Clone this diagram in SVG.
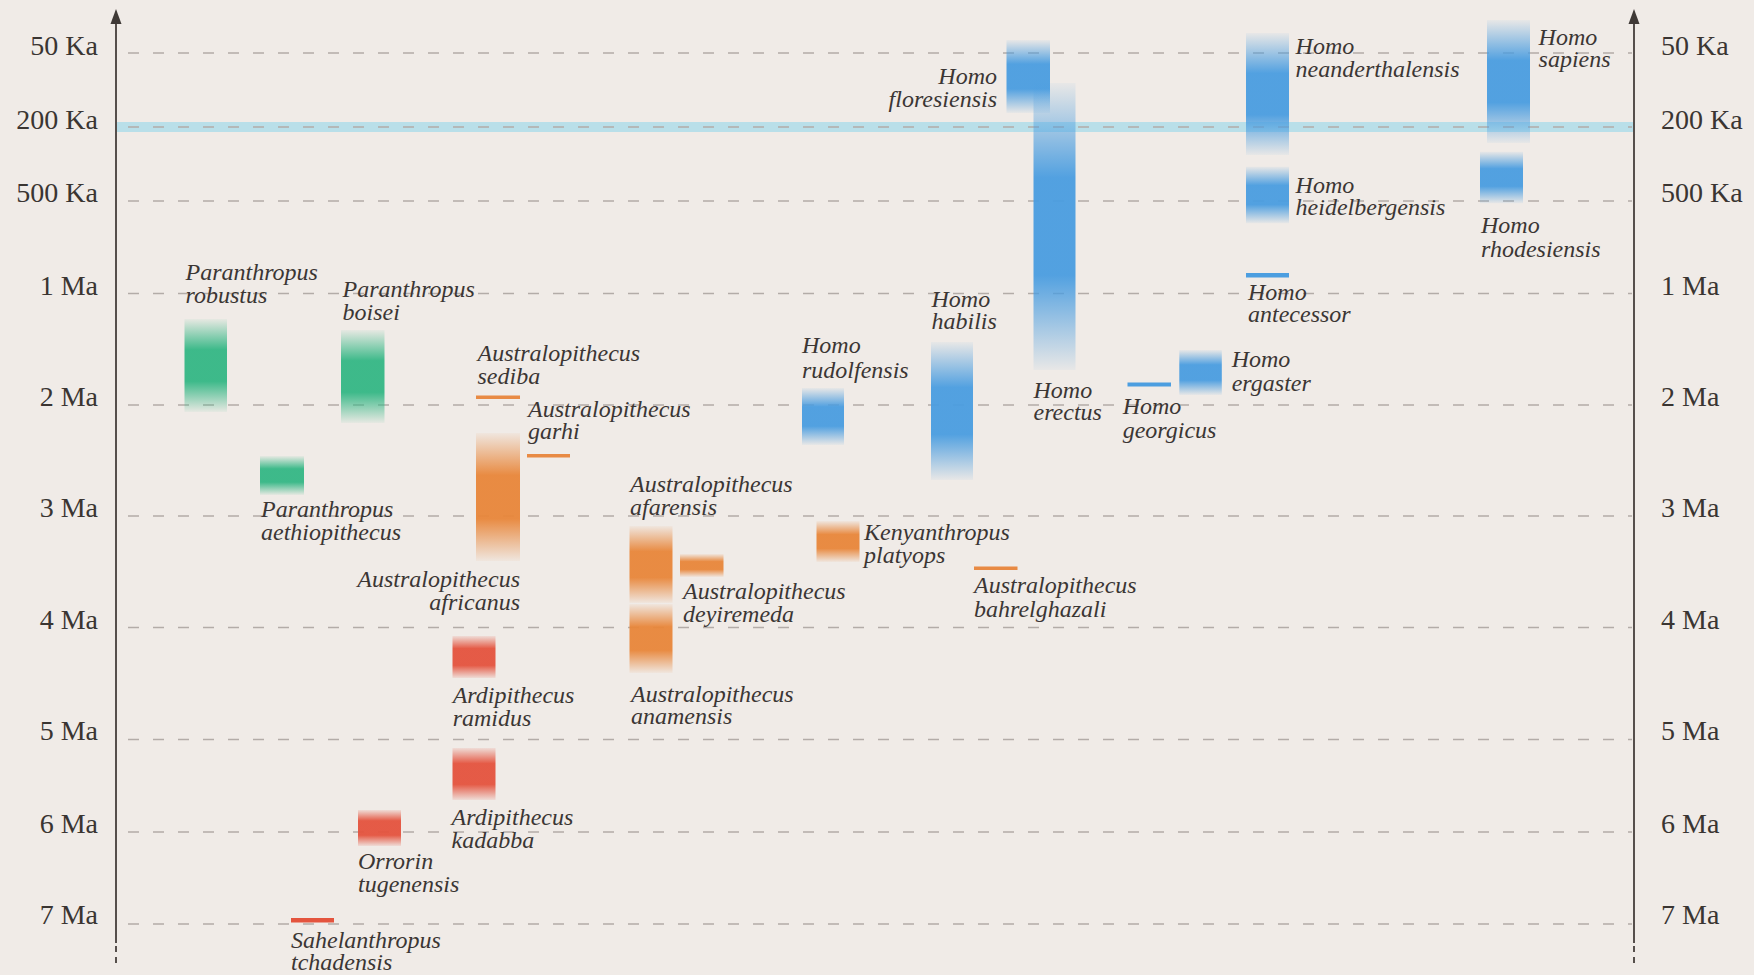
<svg xmlns="http://www.w3.org/2000/svg" width="1754" height="975" viewBox="0 0 1754 975">
<style>
.bg{fill:#f0ebe7}
.grid{stroke:#b3aca8;stroke-width:1.6;stroke-dasharray:11 14;fill:none}
.axis{stroke:#564f4c;stroke-width:2;fill:none}
.axisd{stroke:#564f4c;stroke-width:2;fill:none;stroke-dasharray:6 5}
.arrow{fill:#3f3936}
.tick{font-family:"Liberation Serif",serif;font-size:28px;fill:#3a3532}
.lbl{font-family:"Liberation Serif",serif;font-style:italic;font-size:24px;fill:#3b3634}
.end{text-anchor:end}
.g{fill:url(#gG)}
.o{fill:url(#gO)}
.r{fill:url(#gR)}
.b{fill:url(#gB)}
.ol{fill:#e88a44}
.rl{fill:#e4543e}
.bl{fill:#4c9ee0}
</style>
<defs>
<linearGradient id="gG" x1="0" y1="0" x2="0" y2="1">
<stop offset="0" stop-color="#34b785" stop-opacity="0.05"/>
<stop offset="0.33" stop-color="#34b785" stop-opacity="0.95"/>
<stop offset="0.67" stop-color="#34b785" stop-opacity="0.95"/>
<stop offset="1" stop-color="#34b785" stop-opacity="0.05"/>
</linearGradient>
<linearGradient id="gO" x1="0" y1="0" x2="0" y2="1">
<stop offset="0" stop-color="#e8863a" stop-opacity="0.05"/>
<stop offset="0.33" stop-color="#e8863a" stop-opacity="0.95"/>
<stop offset="0.67" stop-color="#e8863a" stop-opacity="0.95"/>
<stop offset="1" stop-color="#e8863a" stop-opacity="0.05"/>
</linearGradient>
<linearGradient id="gR" x1="0" y1="0" x2="0" y2="1">
<stop offset="0" stop-color="#e4533e" stop-opacity="0.1"/>
<stop offset="0.3" stop-color="#e4533e" stop-opacity="0.95"/>
<stop offset="0.7" stop-color="#e4533e" stop-opacity="0.95"/>
<stop offset="1" stop-color="#e4533e" stop-opacity="0.1"/>
</linearGradient>
<linearGradient id="gB" x1="0" y1="0" x2="0" y2="1">
<stop offset="0" stop-color="#4a9de0" stop-opacity="0.05"/>
<stop offset="0.33" stop-color="#4a9de0" stop-opacity="0.95"/>
<stop offset="0.67" stop-color="#4a9de0" stop-opacity="0.95"/>
<stop offset="1" stop-color="#4a9de0" stop-opacity="0.05"/>
</linearGradient>
</defs>
<rect class="bg" x="0" y="0" width="1754" height="975"/>

<g id="grid">
<rect x="116" y="122" width="1518" height="10" fill="#b9dfe9"/>
<line class="grid" x1="128" y1="53" x2="1632" y2="53"/>
<line class="grid" x1="128" y1="127" x2="1632" y2="127"/>
<line class="grid" x1="128" y1="201" x2="1632" y2="201"/>
<line class="grid" x1="128" y1="293.5" x2="1632" y2="293.5"/>
<line class="grid" x1="128" y1="405" x2="1632" y2="405"/>
<line class="grid" x1="128" y1="516" x2="1632" y2="516"/>
<line class="grid" x1="128" y1="627.5" x2="1632" y2="627.5"/>
<line class="grid" x1="128" y1="739.5" x2="1632" y2="739.5"/>
<line class="grid" x1="128" y1="832" x2="1632" y2="832"/>
<line class="grid" x1="128" y1="924" x2="1632" y2="924"/>
</g>

<g id="axes">
<line class="axis" x1="116" y1="18" x2="116" y2="943"/>
<line class="axisd" x1="116" y1="946" x2="116" y2="966"/>
<polygon class="arrow" points="116,9 110.5,24 121.5,24"/>
<line class="axis" x1="1634" y1="18" x2="1634" y2="943"/>
<line class="axisd" x1="1634" y1="946" x2="1634" y2="966"/>
<polygon class="arrow" points="1634,9 1628.5,24 1639.5,24"/>
</g>

<g id="ticks-left" class="tick end">
<text x="98" y="55">50 Ka</text>
<text x="98" y="128.5">200 Ka</text>
<text x="98" y="202">500 Ka</text>
<text x="98" y="294.5">1 Ma</text>
<text x="98" y="406">2 Ma</text>
<text x="98" y="517">3 Ma</text>
<text x="98" y="628.5">4 Ma</text>
<text x="98" y="740">5 Ma</text>
<text x="98" y="832.5">6 Ma</text>
<text x="98" y="924">7 Ma</text>
</g>
<g id="ticks-right" class="tick">
<text x="1661" y="55">50 Ka</text>
<text x="1661" y="128.5">200 Ka</text>
<text x="1661" y="202">500 Ka</text>
<text x="1661" y="294.5">1 Ma</text>
<text x="1661" y="406">2 Ma</text>
<text x="1661" y="517">3 Ma</text>
<text x="1661" y="628.5">4 Ma</text>
<text x="1661" y="740">5 Ma</text>
<text x="1661" y="832.5">6 Ma</text>
<text x="1661" y="924">7 Ma</text>
</g>

<g id="connectors"></g>

<g id="p-robustus"><rect class="g" x="184.5" y="319" width="42.5" height="93"/>
<text class="lbl" x="185.5" y="280">Paranthropus<tspan x="185.5" y="303">robustus</tspan></text></g>
<g id="p-boisei"><rect class="g" x="341" y="330" width="43.5" height="93"/>
<text class="lbl" x="342.5" y="297">Paranthropus<tspan x="342.5" y="319.5">boisei</tspan></text></g>
<g id="p-aethiopithecus"><rect class="g" x="260" y="456" width="44" height="39"/>
<text class="lbl" x="261" y="516.5">Paranthropus<tspan x="261" y="540">aethiopithecus</tspan></text></g>

<g id="a-sediba"><rect class="ol" x="476" y="395.5" width="44" height="3.5"/>
<text class="lbl" x="477.5" y="361">Australopithecus<tspan x="477.5" y="384">sediba</tspan></text></g>
<g id="a-garhi"><rect class="ol" x="527" y="454" width="43" height="3.5"/>
<text class="lbl" x="528" y="417">Australopithecus<tspan x="528" y="439">garhi</tspan></text></g>
<g id="a-africanus"><rect class="o" x="476" y="433" width="44" height="128"/>
<text class="lbl end" x="520" y="587">Australopithecus<tspan x="520" y="610">africanus</tspan></text></g>
<g id="a-afarensis"><rect class="o" x="629.5" y="526" width="43" height="77"/>
<text class="lbl" x="630" y="492">Australopithecus<tspan x="630" y="514.5">afarensis</tspan></text></g>
<g id="a-anamensis"><rect class="o" x="629.5" y="604" width="43" height="69"/>
<text class="lbl" x="631" y="702">Australopithecus<tspan x="631" y="724">anamensis</tspan></text></g>
<g id="a-deyiremeda"><rect class="o" x="680" y="554" width="43.5" height="23"/>
<text class="lbl" x="683" y="598.5">Australopithecus<tspan x="683" y="622">deyiremeda</tspan></text></g>
<g id="k-platyops"><rect class="o" x="816.5" y="521" width="43" height="41"/>
<text class="lbl" x="864" y="540">Kenyanthropus<tspan x="864" y="563">platyops</tspan></text></g>
<g id="a-bahrelghazali"><rect class="ol" x="974" y="566.5" width="43.5" height="3.5"/>
<text class="lbl" x="974" y="593">Australopithecus<tspan x="974" y="616.5">bahrelghazali</tspan></text></g>

<g id="ar-ramidus"><rect class="r" x="452.5" y="636" width="43" height="42"/>
<text class="lbl" x="452.7" y="703">Ardipithecus<tspan x="452.7" y="726">ramidus</tspan></text></g>
<g id="ar-kadabba"><rect class="r" x="452.5" y="748" width="43" height="52"/>
<text class="lbl" x="451.6" y="825">Ardipithecus<tspan x="451.6" y="848">kadabba</tspan></text></g>
<g id="o-tugenensis"><rect class="r" x="358" y="810" width="43" height="36"/>
<text class="lbl" x="358" y="869">Orrorin<tspan x="358" y="892">tugenensis</tspan></text></g>
<g id="s-tchadensis"><rect class="rl" x="291" y="918" width="43" height="4.5"/>
<text class="lbl" x="291" y="947.5">Sahelanthropus<tspan x="291" y="970">tchadensis</tspan></text></g>

<g id="h-rudolfensis"><rect class="b" x="802" y="388" width="42" height="57"/>
<text class="lbl" x="802" y="353">Homo<tspan x="802" y="377.5">rudolfensis</tspan></text></g>
<g id="h-habilis"><rect class="b" x="931" y="342" width="42" height="138"/>
<text class="lbl" x="931.5" y="306.5">Homo<tspan x="931.5" y="329">habilis</tspan></text></g>
<g id="h-floresiensis"><rect class="b" x="1006.5" y="40" width="43.5" height="73"/>
<text class="lbl end" x="997" y="84">Homo<tspan x="997" y="107">floresiensis</tspan></text></g>
<g id="h-erectus"><rect class="b" x="1033.5" y="83" width="42" height="287"/>
<text class="lbl" x="1033.5" y="398">Homo<tspan x="1033.5" y="420">erectus</tspan></text></g>
<g id="h-georgicus"><rect class="bl" x="1127.5" y="382.5" width="43.5" height="4"/>
<text class="lbl" x="1122.7" y="413.5">Homo<tspan x="1122.7" y="438">georgicus</tspan></text></g>
<g id="h-ergaster"><rect class="b" x="1179.3" y="350" width="42.5" height="45"/>
<text class="lbl" x="1231.7" y="366.5">Homo<tspan x="1231.7" y="391">ergaster</tspan></text></g>
<g id="h-neanderthalensis"><rect class="b" x="1246" y="33" width="43" height="122"/>
<text class="lbl" x="1295.6" y="53.5">Homo<tspan x="1295.6" y="76.5">neanderthalensis</tspan></text></g>
<g id="h-heidelbergensis"><rect class="b" x="1246" y="166.7" width="43" height="56.6"/>
<text class="lbl" x="1295.6" y="192.7">Homo<tspan x="1295.6" y="215">heidelbergensis</tspan></text></g>
<g id="h-antecessor"><rect class="bl" x="1246" y="273" width="43" height="4.5"/>
<text class="lbl" x="1248" y="300">Homo<tspan x="1248" y="322">antecessor</tspan></text></g>
<g id="h-sapiens"><rect class="b" x="1487" y="20" width="43" height="123"/>
<text class="lbl" x="1538.6" y="45">Homo<tspan x="1538.6" y="67">sapiens</tspan></text></g>
<g id="h-rhodesiensis"><rect class="b" x="1480" y="151.7" width="43" height="51.6"/>
<text class="lbl" x="1481" y="233.3">Homo<tspan x="1481" y="256.7">rhodesiensis</tspan></text></g>
</svg>
